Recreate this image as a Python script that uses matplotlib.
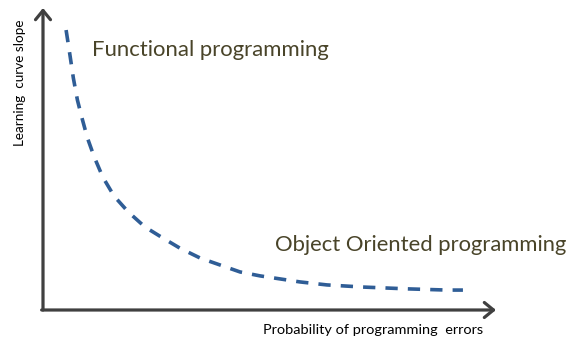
import matplotlib

matplotlib.use("Agg")
from matplotlib import pyplot as plt

# Curve (axis units 0..100 on both axes)
error_prob = [5.1, 6.0, 6.7, 7.6, 8.6, 9.8, 11.3, 13.2, 15.7, 18.8, 22.5, 26.5,
              30.2, 34.7, 39.1, 43.5, 47.9, 52.3, 56.7, 62.7, 70.6, 80.4, 89.2, 92.7]
curve_slope = [92.7, 83.9, 76.8, 69.5, 63.6, 57.0, 50.7, 44.0, 37.7, 32.5, 27.5, 23.8,
               20.5, 17.2, 14.9, 12.6, 11.3, 10.3, 9.3, 8.3, 7.6, 7.0, 6.6, 6.6]

x_label = "Probability of programming  errors"
y_label = "Learning  curve slope"
top_label = "Functional programming"
bottom_label = "Object Oriented programming"

W, H = 584, 350
AXIS_COLOR = "#404040"
TEXT_COLOR = "#494429"

plt.rcParams["font.family"] = ["Lato", "DejaVu Sans"]

fig = plt.figure(figsize=(W / 100, H / 100), dpi=100, facecolor="white")
# axis box: x from px 43 to 496, y from px 8 to 310
ax = fig.add_axes([43 / W, 1 - 310 / H, (496 - 43) / W, (310 - 8) / H])
ax.set_xlim(0, 100)
ax.set_ylim(0, 100)
ax.axis("off")

line, = ax.plot(error_prob, curve_slope, color="#2F5D96", linewidth=2.6,
                solid_capstyle="butt", dash_capstyle="butt")
line.set_dashes((3.4, 2.8))

arrow = dict(arrowstyle="->,head_length=0.55,head_width=0.45", color=AXIS_COLOR,
             lw=2.3, shrinkA=0, shrinkB=0, mutation_scale=12)
ax.annotate("", xy=(0, 1), xytext=(0, 0), xycoords="axes fraction",
            arrowprops=arrow, annotation_clip=False)
ax.annotate("", xy=(1, 0), xytext=(-0.003, 0), xycoords="axes fraction",
            arrowprops=arrow, annotation_clip=False)

texts = [
    (fig.text(92 / W, 1 - 50 / H, top_label, color=TEXT_COLOR, va="center"), 238),
    (fig.text(275 / W, 1 - 245 / H, bottom_label, color=TEXT_COLOR, va="center"), 293),
    (fig.text(263 / W, 1 - 330 / H, x_label, color="black", va="center"), 220),
]
ylab = fig.text(20 / W, 1 - 83 / H, y_label, color="black", rotation=90,
                ha="center", va="center")

# scale the font sizes so each text spans the width seen in the picture
renderer = fig.canvas.get_renderer()
for txt, target in texts:
    txt.set_fontsize(14)
    width = txt.get_window_extent(renderer).width
    txt.set_fontsize(14 * target / width)
ylab.set_fontsize(14)
ylab.set_fontsize(14 * 126 / ylab.get_window_extent(renderer).height)

fig.savefig("out.png", dpi=100, facecolor="white")
